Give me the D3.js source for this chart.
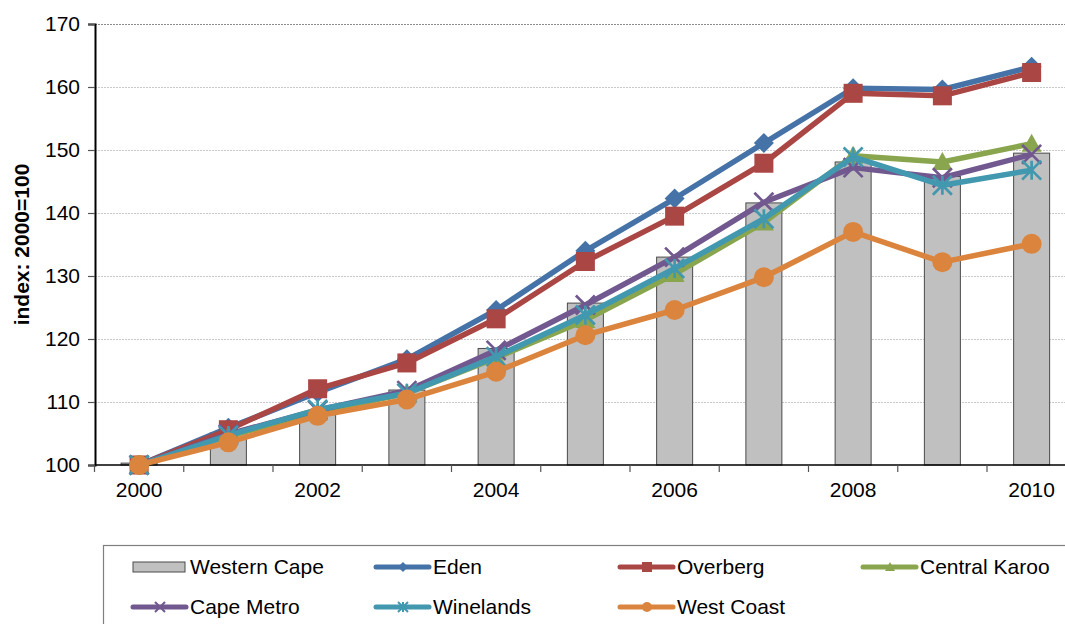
<!DOCTYPE html>
<html>
<head>
<meta charset="utf-8">
<script src="https://cdn.jsdelivr.net/npm/d3@7"></script>
<style>
  html, body { margin: 0; padding: 0; background: #fff; }
  svg { display: block; font-family: "Liberation Sans", Arial, sans-serif; }
</style>
</head>
<body>
<svg id="chart" width="1065" height="624"></svg>
<script>
// Index of value added, 2000 = 100
const years = [2000, 2001, 2002, 2003, 2004, 2005, 2006, 2007, 2008, 2009, 2010];
const yTicks = [100, 110, 120, 130, 140, 150, 160, 170];
const xLabelYears = [2000, 2002, 2004, 2006, 2008, 2010];

const westernCape  = [100.3, 105.1, 108.0, 111.9, 118.5, 125.7, 133.0, 141.6, 148.1, 145.8, 149.5];
const eden         = [100, 105.9, 111.5, 116.8, 124.6, 134.0, 142.3, 151.1, 159.8, 159.6, 163.2];
const overberg     = [100, 105.6, 112.1, 116.2, 123.2, 132.3, 139.5, 147.9, 159.0, 158.6, 162.3];
const centralKaroo = [100, 104.6, 108.3, 111.4, 117.0, 123.0, 130.3, 138.5, 149.1, 148.1, 151.0];
const capeMetro    = [100, 104.9, 108.7, 111.8, 118.2, 125.4, 133.0, 141.7, 147.2, 145.6, 149.3];
const winelands    = [100, 104.7, 108.8, 111.4, 117.2, 123.8, 131.2, 139.1, 148.9, 144.4, 146.8];
const westCoast    = [100, 103.6, 107.8, 110.4, 114.8, 120.6, 124.6, 129.8, 137.0, 132.2, 135.1];

const lineSeries = [
  { name: "Eden",          values: eden,         color: "#4572A7", marker: "diamond" },
  { name: "Overberg",      values: overberg,     color: "#AA4643", marker: "square" },
  { name: "Central Karoo", values: centralKaroo, color: "#89A54E", marker: "triangle" },
  { name: "Cape Metro",    values: capeMetro,    color: "#71588F", marker: "x" },
  { name: "Winelands",     values: winelands,    color: "#4198AF", marker: "star" },
  { name: "West Coast",    values: westCoast,    color: "#DB843D", marker: "circle" }
];

const svg = d3.select("#chart");
const plotLeft = 95, plotTop = 24, plotBottom = 465;
const step = 89.25;

// one slot per year
const xs = d3.scaleBand().domain(years).range([plotLeft - 0.5, plotLeft - 0.5 + step * years.length]);
const y = d3.scaleLinear().domain([100, 170]).range([plotBottom, plotTop]);
const cx = yr => xs(yr) + xs.bandwidth() / 2;

// horizontal gridlines
svg.append("g")
  .selectAll("line")
  .data(yTicks.filter(t => t > 100))
  .join("line")
  .attr("x1", plotLeft).attr("x2", 1065)
  .attr("y1", d => y(d) + 0.5).attr("y2", d => y(d) + 0.5)
  .attr("stroke", d => d === 170 ? "#8c8c8c" : "#c8c8c8")
  .attr("stroke-width", 1.2)
  .attr("stroke-dasharray", "2,1");

// Western Cape bars
const barW = 36;
svg.append("g")
  .selectAll("rect")
  .data(years.map((yr, i) => ({ yr, v: westernCape[i] })))
  .join("rect")
  .attr("x", d => cx(d.yr) - barW / 2)
  .attr("y", d => y(d.v))
  .attr("width", barW)
  .attr("height", d => plotBottom - y(d.v))
  .attr("fill", "#C0C0C0")
  .attr("stroke", "#4a4a4a")
  .attr("stroke-width", 1);

// y axis
const yAxis = d3.axisLeft(y).tickValues(yTicks).tickSize(7).tickPadding(8);
const gy = svg.append("g").attr("transform", `translate(${plotLeft},0)`).call(yAxis);
gy.select(".domain").attr("stroke", "#000").attr("stroke-width", 2);
gy.selectAll(".tick line").attr("stroke", "#555").attr("stroke-width", 1.2);
gy.selectAll(".tick text").attr("font-size", 21).attr("fill", "#000")
  .attr("font-family", "Liberation Sans, Arial, sans-serif");

// x axis: ticks on slot boundaries, labels every second year
const gx = svg.append("g").attr("transform", `translate(0,${plotBottom})`);
gx.append("line").attr("x1", plotLeft).attr("x2", 1065).attr("y1", 0).attr("y2", 0)
  .attr("stroke", "#000").attr("stroke-width", 1.5);
gx.selectAll("line.tk")
  .data(years)
  .join("line")
  .attr("class", "tk")
  .attr("x1", d => xs(d)).attr("x2", d => xs(d))
  .attr("y1", 0).attr("y2", 7)
  .attr("stroke", "#555").attr("stroke-width", 1.2);
gx.selectAll("text")
  .data(xLabelYears)
  .join("text")
  .attr("x", d => cx(d))
  .attr("y", 32)
  .attr("text-anchor", "middle")
  .attr("font-size", 21)
  .text(d => d);

// y axis title
svg.append("text")
  .attr("transform", `translate(29,${(plotTop + plotBottom) / 2}) rotate(-90)`)
  .attr("text-anchor", "middle")
  .attr("font-size", 21)
  .attr("font-weight", "bold")
  .text("index: 2000=100");

// marker drawing
function drawMarker(g, type, color, s) {
  const h = s / 2;
  if (type === "diamond") {
    g.append("path").attr("d", `M0,${-h}L${h},0L0,${h}L${-h},0Z`).attr("fill", color);
  } else if (type === "square") {
    g.append("rect").attr("x", -h).attr("y", -h).attr("width", s).attr("height", s).attr("fill", color);
  } else if (type === "triangle") {
    g.append("path").attr("d", `M0,${-h}L${h},${h * 0.8}L${-h},${h * 0.8}Z`).attr("fill", color);
  } else if (type === "circle") {
    g.append("circle").attr("r", h).attr("fill", color);
  } else if (type === "x") {
    g.append("path").attr("d", `M${-h},${-h}L${h},${h}M${-h},${h}L${h},${-h}`)
      .attr("stroke", color).attr("stroke-width", Math.max(2, s / 7)).attr("fill", "none");
  } else if (type === "star") {
    g.append("path").attr("d", `M${-h},${-h}L${h},${h}M${-h},${h}L${h},${-h}M0,${-h}L0,${h}`)
      .attr("stroke", color).attr("stroke-width", Math.max(2, s / 7)).attr("fill", "none");
  }
}

const line = d3.line().x((d, i) => cx(years[i])).y(d => y(d));
const markerSize = { diamond: 20, square: 19, triangle: 20, circle: 20, x: 19, star: 19 };

lineSeries.forEach(s => {
  const g = svg.append("g");
  g.append("path")
    .attr("d", line(s.values))
    .attr("fill", "none")
    .attr("stroke", s.color)
    .attr("stroke-width", 5.5)
    .attr("stroke-linejoin", "round");
  s.values.forEach((v, i) => {
    const m = g.append("g").attr("transform", `translate(${cx(years[i])},${y(v)})`);
    drawMarker(m, s.marker, s.color, markerSize[s.marker]);
  });
});

// legend
const legend = svg.append("g");
legend.append("rect")
  .attr("x", 103.5).attr("y", 545.5).attr("width", 1000).attr("height", 120)
  .attr("fill", "#fff").attr("stroke", "#7f7f7f").attr("stroke-width", 1.2);

const colX = [190, 433, 677, 920];
const rowY = [567, 607];
const legendItems = [{ name: "Western Cape", bar: true }].concat(lineSeries);
legendItems.forEach((item, i) => {
  const tx = colX[i % 4], ty = rowY[Math.floor(i / 4)];
  const g = legend.append("g");
  if (item.bar) {
    g.append("rect").attr("x", tx - 57).attr("y", ty - 5).attr("width", 52).attr("height", 10)
      .attr("fill", "#C0C0C0").attr("stroke", "#4a4a4a").attr("stroke-width", 1);
  } else {
    g.append("line").attr("x1", tx - 57).attr("x2", tx - 4).attr("y1", ty).attr("y2", ty)
      .attr("stroke", item.color).attr("stroke-width", 5).attr("stroke-linecap", "round");
    const m = g.append("g").attr("transform", `translate(${tx - 30},${ty})`);
    drawMarker(m, item.marker, item.color, 10);
  }
  g.append("text").attr("x", tx).attr("y", ty + 7).attr("font-size", 21).text(item.name);
});
</script>
</body>
</html>
